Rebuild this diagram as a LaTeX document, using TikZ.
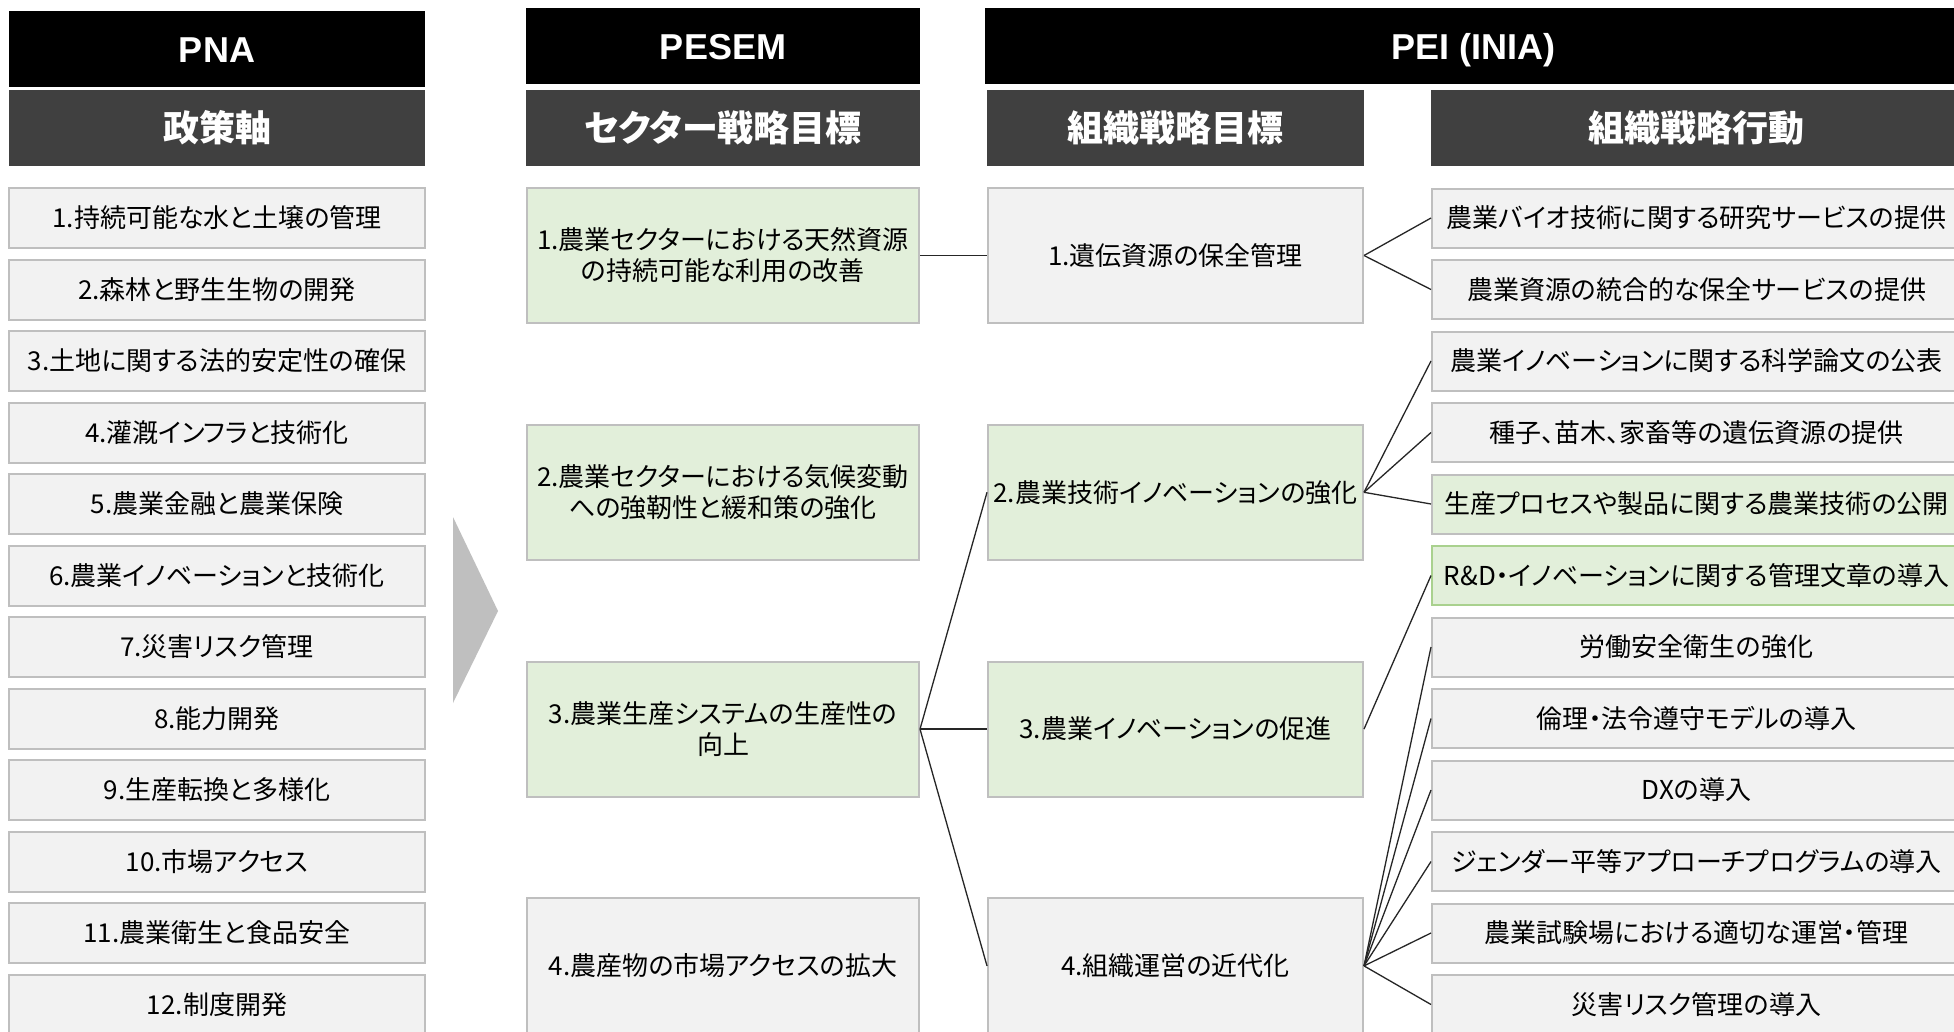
\documentclass[tikz,border=0pt]{standalone}
\usepackage{fontspec}
\setmainfont{Noto Sans CJK JP}[RawFeature=+palt]
\newfontfamily\hdlatin{Liberation Sans}
\newfontfamily\hdjp{Noto Sans CJK JP}[RawFeature=+palt]
\definecolor{hdgray}{HTML}{404040}
\definecolor{boxgray}{HTML}{F2F2F2}
\definecolor{bordgray}{HTML}{BFBFBF}
\definecolor{boxgreen}{HTML}{E2EFDA}
\definecolor{bordgreen}{HTML}{A9D18E}
\definecolor{chevgray}{HTML}{BFBFBF}
\definecolor{linkcol}{HTML}{262626}
\tikzset{
  hdblack/.style={fill=black, text=white, inner sep=0pt, minimum height=76pt, text height=26pt, text depth=0pt, font=\hdlatin\fontsize{36}{40}\selectfont\bfseries},
  hddark/.style={fill=hdgray, text=white, inner sep=0pt, minimum height=76pt, font=\hdjp\fontsize{36}{40}\selectfont\bfseries},
  gbox/.style={draw=bordgray, line width=2pt, fill=boxgray, inner sep=0pt, align=center, text=black, font=\fontsize{26}{31}\selectfont},
  grbox/.style={gbox, fill=boxgreen},
  pnabox/.style={gbox, minimum width=416pt, minimum height=60pt},
  sbox/.style={minimum width=392pt, minimum height=135pt},
  obox/.style={minimum width=375pt, minimum height=135pt},
  abox/.style={minimum width=529pt, minimum height=59pt},
  link/.style={draw=linkcol, line width=1.3pt}
}
\begin{document}
\begin{tikzpicture}[x=1pt,y=-1pt]
\path[use as bounding box] (0,0) rectangle (1954,1031);
\clip (0,0) rectangle (1954,1031);
\fill[white] (0,0) rectangle (1954,1031);

% headers
\node[hdblack, minimum width=416pt] (hPNA) at (217,49) {PNA};
\node[hddark, minimum width=416pt] (hPNAsub) at (217,128) {政策軸};
\node[hdblack, minimum width=394pt] (hPESEM) at (723,46) {PESEM};
\node[hddark, minimum width=394pt] (hPESEMsub) at (723,128) {セクター戦略目標};
\node[hdblack, minimum width=977pt] (hPEI) at (1473.5,46) {PEI (INIA)};
\node[hddark, minimum width=377pt] (hOSO) at (1175.5,128) {組織戦略目標};
\node[hddark, minimum width=531pt] (hACT) at (1696.5,128) {組織戦略行動};

% PNA column
\node[pnabox] (p1) at (217,218) {1.持続可能な水と土壌の管理};
\node[pnabox] (p2) at (217,289.5) {2.森林と野生生物の開発};
\node[pnabox] (p3) at (217,361) {3.土地に関する法的安定性の確保};
\node[pnabox] (p4) at (217,432.5) {4.灌漑インフラと技術化};
\node[pnabox] (p5) at (217,504) {5.農業金融と農業保険};
\node[pnabox] (p6) at (217,575.5) {6.農業イノベーションと技術化};
\node[pnabox] (p7) at (217,647) {7.災害リスク管理};
\node[pnabox] (p8) at (217,718.5) {8.能力開発};
\node[pnabox] (p9) at (217,790) {9.生産転換と多様化};
\node[pnabox] (p10) at (217,861.5) {10.市場アクセス};
\node[pnabox] (p11) at (217,933) {11.農業衛生と食品安全};
\node[pnabox] (p12) at (217,1004.5) {12.制度開発};

% chevron
\fill[chevgray] (453,517) -- (498,611) -- (453,703) -- cycle;

% PESEM column
\node[grbox, sbox] (s1) at (723,255.5) {1.農業セクターにおける天然資源\\の持続可能な利用の改善};
\node[grbox, sbox] (s2) at (723,492.3) {2.農業セクターにおける気候変動\\への強靭性と緩和策の強化};
\node[grbox, sbox] (s3) at (723,729.1) {3.農業生産システムの生産性の\\向上};
\node[gbox, sbox] (s4) at (723,965.9) {4.農産物の市場アクセスの拡大};

% organisational objectives
\node[gbox, obox] (o1) at (1175.5,255.5) {1.遺伝資源の保全管理};
\node[grbox, obox] (o2) at (1175.5,492.3) {2.農業技術イノベーションの強化};
\node[grbox, obox] (o3) at (1175.5,729.1) {3.農業イノベーションの促進};
\node[gbox, obox] (o4) at (1175.5,965.9) {4.組織運営の近代化};

% actions
\node[gbox, abox] (a1) at (1696.5,218) {農業バイオ技術に関する研究サービスの提供};
\node[gbox, abox] (a2) at (1696.5,289.5) {農業資源の統合的な保全サービスの提供};
\node[gbox, abox] (a3) at (1696.5,361) {農業イノベーションに関する科学論文の公表};
\node[gbox, abox] (a4) at (1696.5,432.5) {種子、苗木、家畜等の遺伝資源の提供};
\node[grbox, abox] (a5) at (1696.5,504) {生産プロセスや製品に関する農業技術の公開};
\node[grbox, abox, draw=bordgreen] (a6) at (1696.5,575.5) {R\&D・イノベーションに関する管理文章の導入};
\node[gbox, abox] (a7) at (1696.5,647) {労働安全衛生の強化};
\node[gbox, abox] (a8) at (1696.5,718.5) {倫理・法令遵守モデルの導入};
\node[gbox, abox] (a9) at (1696.5,790) {DXの導入};
\node[gbox, abox] (a10) at (1696.5,861.5) {ジェンダー平等アプローチプログラムの導入};
\node[gbox, abox] (a11) at (1696.5,933) {農業試験場における適切な運営・管理};
\node[gbox, abox] (a12) at (1696.5,1004.5) {災害リスク管理の導入};

% connectors
\draw[link] (s1.east) -- (o1.west);
\draw[link] (s3.east) -- (o2.west);
\draw[link] (s3.east) -- (o3.west);
\draw[link] (s3.east) -- (o4.west);
\draw[link] (o1.east) -- (a1.west);
\draw[link] (o1.east) -- (a2.west);
\draw[link] (o2.east) -- (a3.west);
\draw[link] (o2.east) -- (a4.west);
\draw[link] (o2.east) -- (a5.west);
\draw[link] (o3.east) -- (a6.west);
\foreach \k in {7,...,12} {\draw[link] (o4.east) -- (a\k.west);}
\end{tikzpicture}
\end{document}
